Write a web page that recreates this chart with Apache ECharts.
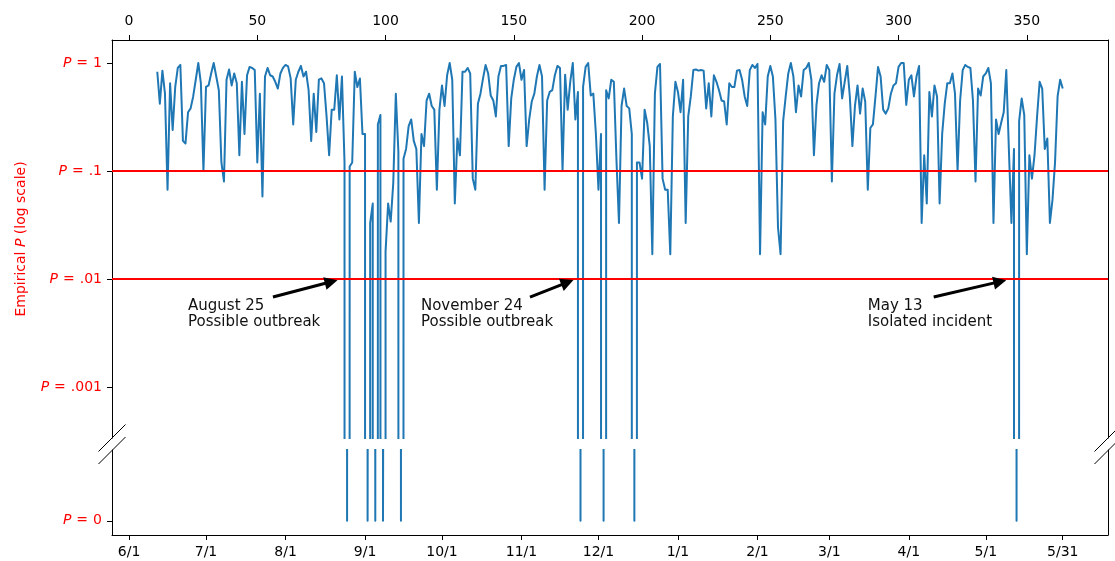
<!DOCTYPE html>
<html><head><meta charset="utf-8">
<script src="https://cdn.jsdelivr.net/npm/echarts@6/dist/echarts.min.js"></script>
<style>html,body{margin:0;padding:0;background:#fff}#c{width:1115px;height:561px}</style>
</head><body><div id="c"></div>
<script>
// ---- data ----
const startDay = 11; // first day index of the series (day 0 = 6/1)
const pValues = [
 0.83,0.42,0.85,0.52,0.067,0.65,0.24,0.6,0.9,0.96,
 0.19,0.18,0.35,0.38,0.49,0.7,1.0,0.65,0.1,0.6,
 0.62,0.8,1.0,0.75,0.56,0.12,0.08,0.7,0.87,0.62,
 0.8,0.65,0.14,0.67,0.22,0.77,0.92,0.9,0.86,0.12,
 0.52,0.058,0.75,0.9,0.77,0.75,0.67,0.58,0.8,0.9,
 0.96,0.93,0.72,0.27,0.7,0.83,0.94,0.75,0.83,0.56,
 0.19,0.52,0.23,0.7,0.72,0.65,0.32,0.14,0.37,0.37,
 0.77,0.3,0.75,0.12,0,0.11,0.12,0.83,0.6,0.72,
 0.22,0.22,0,0.033,0.05,0,0.27,0.33,0,0.018,
 0.05,0.034,0.077,0.52,0.15,0,0.13,0.16,0.26,0.3,
 0.19,0.16,0.033,0.22,0.17,0.45,0.52,0.4,0.37,0.067,
 0.37,0.62,0.4,0.77,1.0,0.7,0.05,0.2,0.14,0.83,
 0.83,0.9,0.8,0.085,0.067,0.42,0.52,0.72,0.96,0.8,
 0.5,0.45,0.32,0.75,0.94,0.94,0.96,0.17,0.47,0.7,
 0.92,1.0,0.7,0.86,0.17,0.3,0.44,0.52,0.75,0.96,
 0.75,0.067,0.45,0.54,0.56,0.77,0.94,0.9,0.1,0.78,
 0.37,0.67,1.0,0.3,0.54,0,0.6,0.92,1.0,0.5,
 0.52,0.22,0.067,0.22,0,0.56,0.47,0.7,0.67,0.13,
 0.033,0.4,0.58,0.4,0.38,0.22,0,0.12,0.12,0.085,
 0.37,0.28,0.17,0.017,0.52,0.92,0.98,0.085,0.067,0.067,
 0.017,0.32,0.67,0.54,0.35,0.7,0.033,0.32,0.49,0.86,
 0.87,0.85,0.86,0.85,0.38,0.65,0.32,0.77,0.67,0.56,
 0.45,0.44,0.27,0.65,0.6,0.6,0.85,0.86,0.7,0.49,
 0.4,0.86,0.96,0.9,0.98,0.017,0.35,0.27,0.75,0.94,
 0.75,0.3,0.03,0.017,0.29,0.49,0.8,1.0,0.75,0.35,
 0.62,0.49,0.86,0.9,1.0,0.7,0.14,0.41,0.65,0.77,
 0.67,0.96,0.86,0.08,0.52,0.77,0.98,0.47,0.67,0.94,
 0.49,0.17,0.4,0.62,0.34,0.58,0.44,0.067,0.25,0.27,
 0.49,0.92,0.75,0.37,0.34,0.38,0.52,0.62,0.65,0.92,
 1.0,1.0,0.41,0.7,0.77,0.49,0.75,0.94,0.033,0.14,
 0.05,0.54,0.32,0.62,0.49,0.05,0.22,0.42,0.65,0.65,
 0.8,0.52,0.1,0.45,0.86,0.96,0.92,0.9,0.45,0.08,
 0.58,0.5,0.75,0.8,0.9,0.65,0.033,0.3,0.22,0.28,
 0.35,0.86,0.16,0.033,0.16,0,0.29,0.47,0.33,0.017,
 0.14,0.085,0.14,0.32,0.67,0.58,0.16,0.2,0.033,0.054,
 0.12,0.49,0.7,0.58
];
const dayTicks = [0,50,100,150,200,250,300,350];
const dateTickDays = [0,30,61,92,122,153,183,214,245,273,304,334,364];
const dateTickLabels = ['6/1','7/1','8/1','9/1','10/1','11/1','12/1','1/1','2/1','3/1','4/1','5/1','5/31'];
const pTickValues = [1,0.1,0.01,0.001];
const pTickLabels = ['1','.1','.01','.001'];
const thresholds = [0.1,0.01];
const annotationTexts = ['August 25\nPossible outbreak','November 24\nPossible outbreak','May 13\nIsolated incident'];

// ---- layout / styling ----
const FONT = 'DejaVu Sans';
const annLayout = [
  {text:[23.0,0.00474], from:[56.1,0.00681], to:[78.8,0.00942]},
  {text:[113.8,0.00474], from:[156.3,0.00681], to:[170.9,0.00929]},
  {text:[288.0,0.00474], from:[313.7,0.00681], to:[339.5,0.00946]}
];
const xMin = -6.65, xMax = 381.65;

const upperData = pValues.map((p,i)=>[startDay+i, p>0 ? p : 1e-300]);
const lowerData = pValues.map((p,i)=>[startDay+i, p]);

function pLabel(v){
  let idx = pTickValues.findIndex(t=>Math.abs(Math.log10(t)-Math.log10(v))<1e-6);
  return '{i|P}{e|=}' + (idx>=0 ? pTickLabels[idx] : v);
}
const axisLineStyle = {show:true, onZero:false, lineStyle:{color:'#000', width:1}};
const redRich = {
  i:{fontStyle:'italic', color:'red', fontSize:14, fontFamily:FONT},
  e:{color:'red', fontSize:14, fontFamily:FONT, padding:[0,5,0,5]}
};
const nameRich = {i:{fontStyle:'italic', color:'red', fontSize:14, fontFamily:FONT}};

const chart = echarts.init(document.getElementById('c'), null, {renderer:'canvas'});
chart.setOption({
  animation:false,
  backgroundColor:'#fff',
  grid:[
    {left:112, right:7, top:40, height:398},
    {left:112, right:7, top:450, height:85}
  ],
  xAxis:[
    {gridIndex:0, type:'value', position:'top', min:xMin, max:xMax,
     axisLine:axisLineStyle,
     axisTick:{show:true, inside:false, length:5, lineStyle:{color:'#000'}, customValues:dayTicks},
     axisLabel:{show:true, customValues:dayTicks, color:'#000', fontSize:14, fontFamily:FONT, margin:12},
     splitLine:{show:false}},
    {gridIndex:1, type:'value', position:'bottom', min:xMin, max:xMax,
     axisLine:axisLineStyle,
     axisTick:{show:true, inside:false, length:5, lineStyle:{color:'#000'}, customValues:dateTickDays},
     axisLabel:{show:true, customValues:dateTickDays, color:'#000', fontSize:14, fontFamily:FONT, margin:10,
       formatter:(v)=>{const k=dateTickDays.indexOf(Math.round(v)); return k>=0?dateTickLabels[k]:'';}},
     splitLine:{show:false}}
  ],
  yAxis:[
    {gridIndex:0, type:'log', logBase:10, position:'left',
     min:Math.pow(10,-3.472), max:Math.pow(10,0.213),
     axisLine:axisLineStyle,
     axisTick:{show:true, inside:false, length:5, lineStyle:{color:'#000'}, customValues:pTickValues},
     axisLabel:{show:true, customValues:pTickValues, color:'red', fontSize:14, fontFamily:FONT, margin:10,
       formatter:pLabel, rich:redRich},
     minorTick:{show:false}, splitLine:{show:false},
     name:'Empirical {i|P} (log scale)', nameLocation:'middle', nameGap:84, nameRotate:90,
     nameTextStyle:{color:'red', fontSize:14, fontFamily:FONT, rich:nameRich}},
    {gridIndex:0, type:'value', position:'right', min:0, max:1,
     axisLine:axisLineStyle, axisTick:{show:false}, axisLabel:{show:false}, splitLine:{show:false}},
    {gridIndex:1, type:'value', position:'left', min:-0.0002, max:0.001,
     axisLine:axisLineStyle,
     axisTick:{show:true, inside:false, length:5, lineStyle:{color:'#000'}, customValues:[0]},
     axisLabel:{show:true, customValues:[0], color:'red', fontSize:14, fontFamily:FONT, margin:10,
       formatter:()=> '{i|P}{e|=}0', rich:redRich},
     splitLine:{show:false}},
    {gridIndex:1, type:'value', position:'right', min:0, max:1,
     axisLine:axisLineStyle, axisTick:{show:false}, axisLabel:{show:false}, splitLine:{show:false}}
  ],
  series:[
    {type:'line', xAxisIndex:0, yAxisIndex:0, data:upperData, symbol:'none', showSymbol:false, clip:true,
     lineStyle:{color:'#1f77b4', width:2, join:'round'}, z:2,
     markLine:{silent:true, symbol:['none','none'], animation:false, label:{show:false},
       lineStyle:{color:'red', width:1.8, type:'solid'},
       data: thresholds.map(t=>({yAxis:t}))}},
    {type:'line', xAxisIndex:1, yAxisIndex:2, data:lowerData, symbol:'none', showSymbol:false, clip:true,
     lineStyle:{color:'#1f77b4', width:2, join:'round'}},
    {type:'line', xAxisIndex:0, yAxisIndex:0, data:[], symbol:'none', z:5,
     markLine:{silent:true, symbol:['none','triangle'], symbolSize:13, animation:false, label:{show:false},
       lineStyle:{color:'#000', width:3, type:'solid'},
       data: annLayout.map(a=>[{coord:a.from},{coord:a.to}])},
     markPoint:{silent:true, symbol:'circle', symbolSize:0, animation:false,
       label:{show:true, position:'right', distance:0, color:'#111', fontSize:15, fontFamily:FONT, lineHeight:16, align:'left'},
       data: annLayout.map((a,i)=>({coord:a.text, value:0, label:{formatter:annotationTexts[i]}}))}}
  ],
  graphic:[
    {type:'line', shape:{x1:98.5,y1:451.5,x2:125.5,y2:424.5}, style:{stroke:'#000', lineWidth:1}, silent:true},
    {type:'line', shape:{x1:98.5,y1:464,x2:125.5,y2:437}, style:{stroke:'#000', lineWidth:1}, silent:true},
    {type:'line', shape:{x1:1094.5,y1:451.5,x2:1121.5,y2:424.5}, style:{stroke:'#000', lineWidth:1}, silent:true},
    {type:'line', shape:{x1:1094.5,y1:464,x2:1121.5,y2:437}, style:{stroke:'#000', lineWidth:1}, silent:true}
  ]
});
</script>
</body></html>
